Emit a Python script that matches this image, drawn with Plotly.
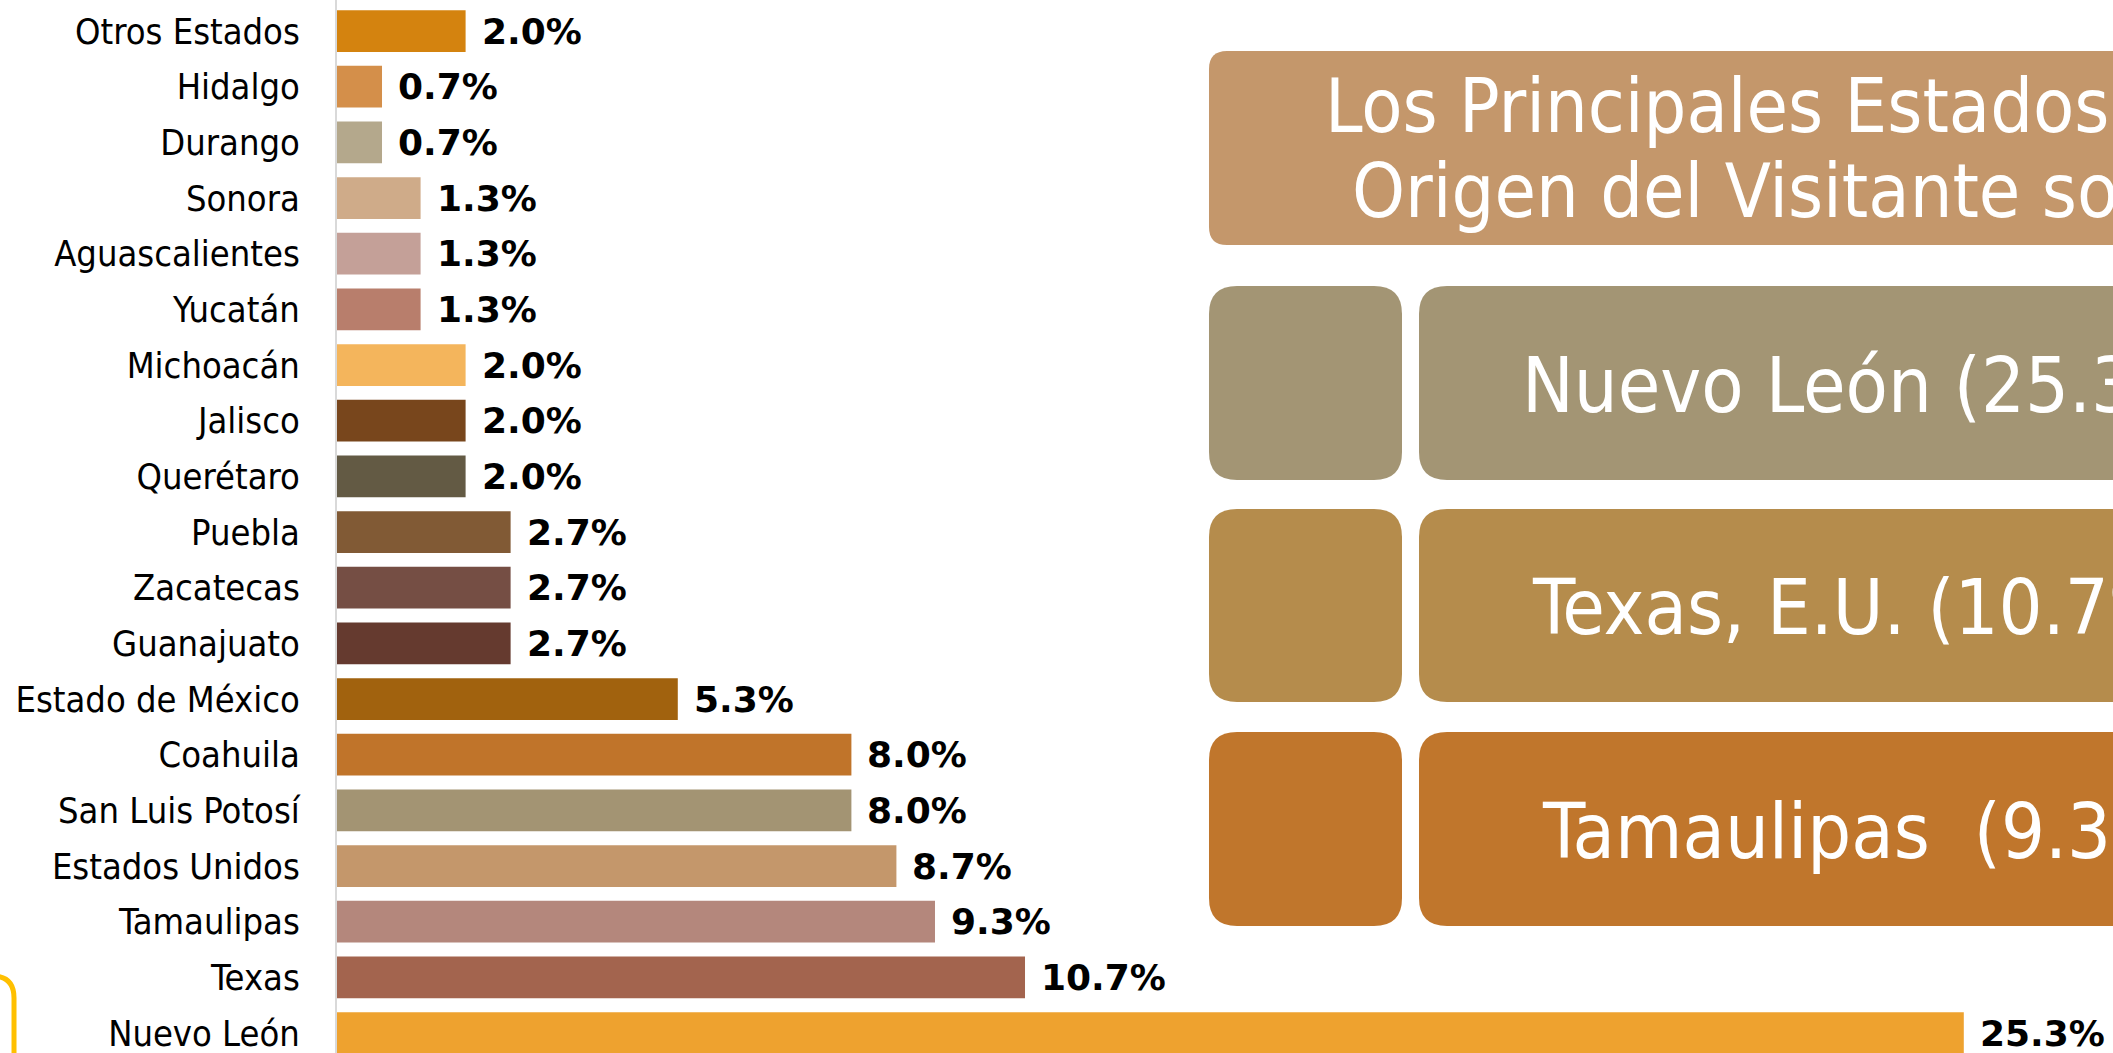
import plotly.graph_objects as go

# Estados de origen del visitante, de abajo hacia arriba
estados = ["Nuevo León", "Texas", "Tamaulipas", "Estados Unidos", "San Luis Potosí",
           "Coahuila", "Estado de México", "Guanajuato", "Zacatecas", "Puebla",
           "Querétaro", "Jalisco", "Michoacán", "Yucatán", "Aguascalientes",
           "Sonora", "Durango", "Hidalgo", "Otros Estados"]
porcentajes = [25.3, 10.7, 9.3, 8.7, 8.0, 8.0, 5.3, 2.7, 2.7, 2.7,
               2.0, 2.0, 2.0, 1.3, 1.3, 1.3, 0.7, 0.7, 2.0]
colores = ["#EEA22F", "#A3644E", "#B4877C", "#C4976B", "#A39473",
           "#C0742A", "#A1620E", "#653A2F", "#754E44", "#815A35",
           "#635A44", "#78461C", "#F4B55C", "#B87E6C", "#C4A098",
           "#CFAB89", "#B4A88C", "#D48F4A", "#D4830F"]

titulo = ["Los Principales Estados de", "Origen del Visitante son:"]
principales = ["Nuevo León (25.3%)", "Texas, E.U. (10.7%)", "Tamaulipas\u00a0 (9.3%)"]
colores_principales = ["#A39574", "#B58C4C", "#C0762C"]

W, H = 2113, 1053
NARROW = "Liberation Sans Narrow, DejaVu Sans Condensed, sans-serif"


def px(x):
    return x / W


def py(y):
    return 1 - y / H


def rrect(x0, y0, x1, y1, r):
    # caja redondeada en pixeles -> coordenadas de papel
    pts = [("M", [(x0 + r, y0)]), ("L", [(x1 - r, y0)]), ("Q", [(x1, y0), (x1, y0 + r)]),
           ("L", [(x1, y1 - r)]), ("Q", [(x1, y1), (x1 - r, y1)]), ("L", [(x0 + r, y1)]),
           ("Q", [(x0, y1), (x0, y1 - r)]), ("L", [(x0, y0 + r)]), ("Q", [(x0, y0), (x0 + r, y0)])]
    s = ""
    for cmd, coords in pts:
        s += cmd + " " + " ".join(f"{px(a):.5f},{py(b):.5f}" for a, b in coords) + " "
    return s + "Z"


fig = go.Figure(go.Bar(
    x=porcentajes, y=estados, orientation="h",
    marker=dict(color=colores, line=dict(width=0)),
    hoverinfo="skip",
))

# etiquetas de valor
for v, e in zip(porcentajes, estados):
    fig.add_annotation(x=v, y=e, xref="x", yref="y", text=f"{v:.1f}%",
                       xanchor="left", yanchor="middle", xshift=14, showarrow=False,
                       font=dict(family="DejaVu Sans", size=36, color="black", weight="bold"))

shapes = []
# caja del titulo
shapes.append(dict(type="path", xref="paper", yref="paper",
                   path=rrect(1209, 51, W + 80, 245, 18),
                   fillcolor="#C4976B", line=dict(width=0)))
fig.add_annotation(x=px(1323), y=py(106), xref="paper", yref="paper", text=titulo[0],
                   xanchor="left", yanchor="middle", showarrow=False,
                   font=dict(family=NARROW, size=75, color="white"))
fig.add_annotation(x=px(1350), y=py(191), xref="paper", yref="paper", text=titulo[1],
                   xanchor="left", yanchor="middle", showarrow=False,
                   font=dict(family=NARROW, size=75, color="white"))

filas = [(286, 480, 1520), (509, 702, 1530), (732, 926, 1540)]
for (y0, y1, xt), txt, c in zip(filas, principales, colores_principales):
    shapes.append(dict(type="path", xref="paper", yref="paper",
                       path=rrect(1209, y0, 1402, y1, 28), fillcolor=c, line=dict(width=0)))
    shapes.append(dict(type="path", xref="paper", yref="paper",
                       path=rrect(1419, y0, W + 80, y1, 28), fillcolor=c, line=dict(width=0)))
    fig.add_annotation(x=px(xt), y=py((y0 + y1) / 2 + 2), xref="paper", yref="paper", text=txt,
                       xanchor="left", yanchor="middle", showarrow=False,
                       font=dict(family=NARROW, size=77, color="white"))

# marco amarillo recortado abajo a la izquierda
shapes.append(dict(type="path", xref="paper", yref="paper",
                   path=rrect(-80, 976, 14, 1140, 22),
                   fillcolor="rgba(0,0,0,0)", line=dict(color="#FFC000", width=5)))

fig.update_layout(
    width=W, height=H,
    margin=dict(l=0, r=0, t=0, b=0),
    paper_bgcolor="white", plot_bgcolor="white",
    bargap=0.25, showlegend=False,
    shapes=shapes,
    xaxis=dict(domain=[337 / W, 1], range=[0, 1776 / 64.3], visible=False,
               showgrid=False, zeroline=False),
    yaxis=dict(type="category", categoryorder="array", categoryarray=estados,
               range=[-0.359, 18.557], showgrid=False, zeroline=False,
               showline=True, linecolor="#D9D9D9", linewidth=2,
               ticks="", ticklabelstandoff=28, automargin=False,
               tickfont=dict(family=NARROW, size=36, color="black")),
)

# sin margen del body para que la figura ocupe toda la ventana
fig.write_html("out.html", config={"displayModeBar": False},
               post_script="document.body.style.margin='0';")
